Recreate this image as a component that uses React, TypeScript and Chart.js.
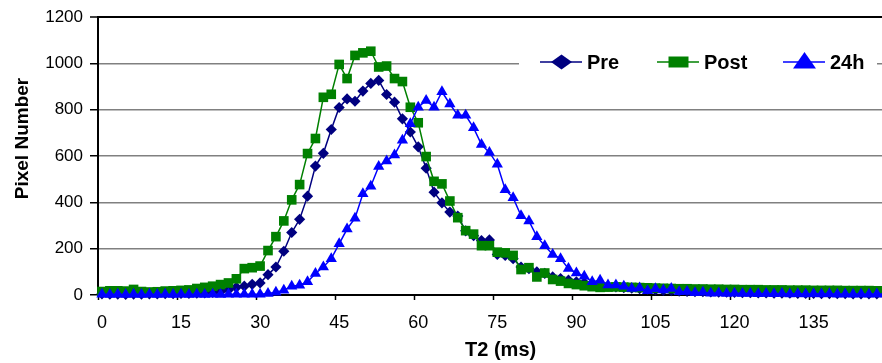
import React, { useEffect, useRef } from 'react';
import { Chart, registerables } from 'chart.js';

Chart.register(...registerables);

const FONT = '"Liberation Sans", Arial, Helvetica, sans-serif';

// T2 categories (ms)
const t2 = [
  0, 1.5, 3, 4.5, 6, 7.5, 9, 10.5, 12, 13.5,
  15, 16.5, 18, 19.5, 21, 22.5, 24, 25.5, 27, 28.5,
  30, 31.5, 33, 34.5, 36, 37.5, 39, 40.5, 42, 43.5,
  45, 46.5, 48, 49.5, 51, 52.5, 54, 55.5, 57, 58.5,
  60, 61.5, 63, 64.5, 66, 67.5, 69, 70.5, 72, 73.5,
  75, 76.5, 78, 79.5, 81, 82.5, 84, 85.5, 87, 88.5,
  90, 91.5, 93, 94.5, 96, 97.5, 99, 100.5, 102, 103.5,
  105, 106.5, 108, 109.5, 111, 112.5, 114, 115.5, 117, 118.5,
  120, 121.5, 123, 124.5, 126, 127.5, 129, 130.5, 132, 133.5,
  135, 136.5, 138, 139.5, 141, 142.5, 144, 145.5, 147, 148.5,
];

const pre = [
  5, 4, 4, 3, 4, 4, 5, 5, 6, 6,
  7, 7, 8, 9, 11, 15, 22, 33, 38, 46,
  52, 88, 121, 189, 270, 327, 427, 557, 612, 715,
  810, 847, 837, 881, 914, 927, 866, 833, 761, 704,
  640, 548, 444, 398, 358, 341, 277, 256, 235, 238,
  175, 171, 157, 121, 114, 100, 93, 78, 71, 64,
  57, 53, 47, 43, 38, 35, 32, 30, 27, 25,
  22, 20, 19, 17, 16, 15, 14, 13, 12, 12,
  11, 10, 10, 9, 9, 8, 8, 8, 7, 7,
  7, 6, 6, 6, 6, 5, 5, 5, 5, 5,
];

const post = [
  15, 18, 18, 17, 24, 15, 13, 14, 17, 18,
  20, 22, 28, 33, 38, 45, 52, 70, 114, 118,
  125, 192, 252, 320, 411, 477, 611, 676, 854, 867,
  996, 935, 1035, 1046, 1053, 985, 989, 935, 922, 811,
  744, 598, 491, 480, 406, 334, 278, 263, 213, 213,
  185, 182, 171, 110, 118, 78, 95, 67, 60, 50,
  45, 40, 36, 33, 34, 35, 34, 33, 32, 31,
  30, 29, 28, 27, 27, 26, 26, 25, 25, 24,
  24, 23, 23, 23, 22, 22, 22, 21, 21, 21,
  20, 20, 20, 20, 19, 19, 19, 19, 18, 18,
];

const h24 = [
  3, 2, 3, 2, 3, 2, 3, 2, 3, 2,
  3, 2, 3, 2, 3, 2, 3, 3, 3, 3,
  3, 6, 12, 21, 38, 42, 57, 93, 121, 157,
  221, 285, 332, 437, 470, 555, 579, 605, 669, 740,
  811, 840, 811, 878, 825, 776, 776, 722, 650, 616,
  565, 455, 420, 342, 320, 252, 213, 175, 157, 114,
  95, 81, 57, 64, 43, 43, 38, 28, 30, 18,
  27, 22, 28, 14, 15, 10, 12, 8, 9, 7,
  8, 6, 7, 5, 6, 5, 6, 4, 5, 4,
  5, 4, 5, 3, 4, 3, 4, 3, 4, 3,
];

const xTickLabels = [0, 15, 30, 45, 60, 75, 90, 105, 120, 135];
const yTickLabels = [0, 200, 400, 600, 800, 1000, 1200];
const seriesNames = ['Pre', 'Post', '24h'];
const xTitle = 'T2 (ms)';
const yTitle = 'Pixel Number';

const NAVY = '#000080';
const GREEN = '#008000';
const BLUE = '#0000FF';

const toXY = (vals: number[]) => vals.map((v, i) => ({ x: t2[i], y: v }));

const overlayPlugin = {
  id: 'overlay',
  afterDraw(chart: any) {
    const ctx = chart.ctx as CanvasRenderingContext2D;
    const area = chart.chartArea;
    ctx.save();
    ctx.fillStyle = '#000';
    // Y title
    ctx.save();
    ctx.translate(23, 138.5);
    ctx.rotate(-Math.PI / 2);
    ctx.font = `bold 19px ${FONT}`;
    ctx.textAlign = 'center';
    ctx.textBaseline = 'middle';
    ctx.fillText(yTitle, 0, 0);
    ctx.restore();
    // X title
    ctx.font = `bold 20px ${FONT}`;
    ctx.textAlign = 'center';
    ctx.textBaseline = 'middle';
    ctx.fillText(xTitle, (area.left + area.right) / 2, 350);

    // Legend
    ctx.fillStyle = '#fff';
    ctx.fillRect(519, 48, 358, 28);
    const ly = 62;
    const entries = [
      { name: seriesNames[0], color: NAVY, kind: 'diamond', x: 540 },
      { name: seriesNames[1], color: GREEN, kind: 'square', x: 657 },
      { name: seriesNames[2], color: BLUE, kind: 'triangle', x: 783 },
    ];
    for (const e of entries) {
      ctx.strokeStyle = e.color;
      ctx.lineWidth = 1.5;
      ctx.beginPath();
      ctx.moveTo(e.x, ly);
      ctx.lineTo(e.x + 42, ly);
      ctx.stroke();
      const cx = e.x + 21.5;
      ctx.fillStyle = e.color;
      ctx.beginPath();
      if (e.kind === 'diamond') {
        ctx.moveTo(cx - 10.5, ly);
        ctx.lineTo(cx, ly - 7.5);
        ctx.lineTo(cx + 10.5, ly);
        ctx.lineTo(cx, ly + 7.5);
        ctx.closePath();
      } else if (e.kind === 'square') {
        ctx.rect(cx - 10, ly - 5.5, 20, 11);
      } else {
        ctx.moveTo(cx, ly - 10);
        ctx.lineTo(cx + 11.5, ly + 6.5);
        ctx.lineTo(cx - 11.5, ly + 6.5);
        ctx.closePath();
      }
      ctx.fill();
      ctx.fillStyle = '#000';
      ctx.font = `bold 20px ${FONT}`;
      ctx.textAlign = 'left';
      ctx.textBaseline = 'middle';
      ctx.fillText(e.name, e.x + 47, ly + 1);
    }
    ctx.restore();
  },
};

export default function App() {
  const ref = useRef<HTMLCanvasElement | null>(null);

  useEffect(() => {
    if (!ref.current) return;
    const common = {
      borderWidth: 1.5,
      pointBorderWidth: 0,
      clip: false as any,
      tension: 0,
    };
    const chart = new Chart(ref.current, {
      type: 'line',
      data: {
        datasets: [
          {
            ...common,
            label: seriesNames[0],
            data: toXY(pre),
            borderColor: NAVY,
            backgroundColor: NAVY,
            pointBackgroundColor: NAVY,
            pointBorderColor: NAVY,
            pointStyle: 'rectRot',
            pointRadius: 5.6,
            order: 3,
          },
          {
            ...common,
            label: seriesNames[1],
            data: toXY(post),
            borderColor: GREEN,
            backgroundColor: GREEN,
            pointBackgroundColor: GREEN,
            pointBorderColor: GREEN,
            pointStyle: 'rect',
            pointRadius: 6.8,
            order: 2,
          },
          {
            ...common,
            label: seriesNames[2],
            data: toXY(h24),
            borderColor: BLUE,
            backgroundColor: BLUE,
            pointBackgroundColor: BLUE,
            pointBorderColor: BLUE,
            pointStyle: 'triangle',
            pointRadius: 6.5,
            order: 1,
          },
        ],
      },
      options: {
        animation: false,
        responsive: false,
        devicePixelRatio: 1,
        layout: { padding: { top: 14, right: 4, left: 0, bottom: 0 } },
        plugins: {
          legend: { display: false },
          tooltip: { enabled: false },
          title: { display: false },
        },
        scales: {
          x: {
            type: 'linear',
            min: -0.75,
            max: 152,
            afterBuildTicks: (s: any) => {
              s.ticks = xTickLabels.map((v) => ({ value: v - 0.75 }));
            },
            afterFit: (s: any) => {
              s.height = 68;
            },
            ticks: {
              callback: (v: any) => String(Math.round(Number(v) + 0.75)),
              labelOffset: 4,
              padding: 12,
              maxRotation: 0,
              autoSkip: false,
              color: '#000',
              font: { family: FONT, size: 18 },
            },
            grid: {
              drawOnChartArea: false,
              drawTicks: true,
              tickLength: 5,
              tickColor: '#000',
              tickWidth: 1.5,
            },
            border: { color: '#000', width: 2 },
          },
          y: {
            type: 'linear',
            min: 0,
            max: 1200,
            afterBuildTicks: (s: any) => {
              s.ticks = yTickLabels.map((v) => ({ value: v }));
            },
            afterFit: (s: any) => {
              s.width = 98;
            },
            ticks: {
              callback: (v: any) => String(v),
              padding: 7,
              color: '#000',
              font: { family: FONT, size: 17 },
            },
            grid: {
              color: (c: any) =>
                c.tick && (c.tick.value === 1200 || c.tick.value === 0) ? '#000' : '#808080',
              lineWidth: (c: any) => (c.tick && c.tick.value === 1200 ? 2 : 1.5),
              tickColor: '#000',
              tickLength: 8,
              tickWidth: 1.5,
            },
            border: { color: '#000', width: 2 },
          },
        },
      },
      plugins: [overlayPlugin],
    } as any);
    return () => chart.destroy();
  }, []);

  return (
    <div
      style={{
        position: 'fixed',
        left: 0,
        top: 0,
        width: 882,
        height: 363,
        overflow: 'hidden',
        background: '#fff',
      }}
    >
      <canvas ref={ref} width={910} height={363} style={{ display: 'block' }} />
    </div>
  );
}
